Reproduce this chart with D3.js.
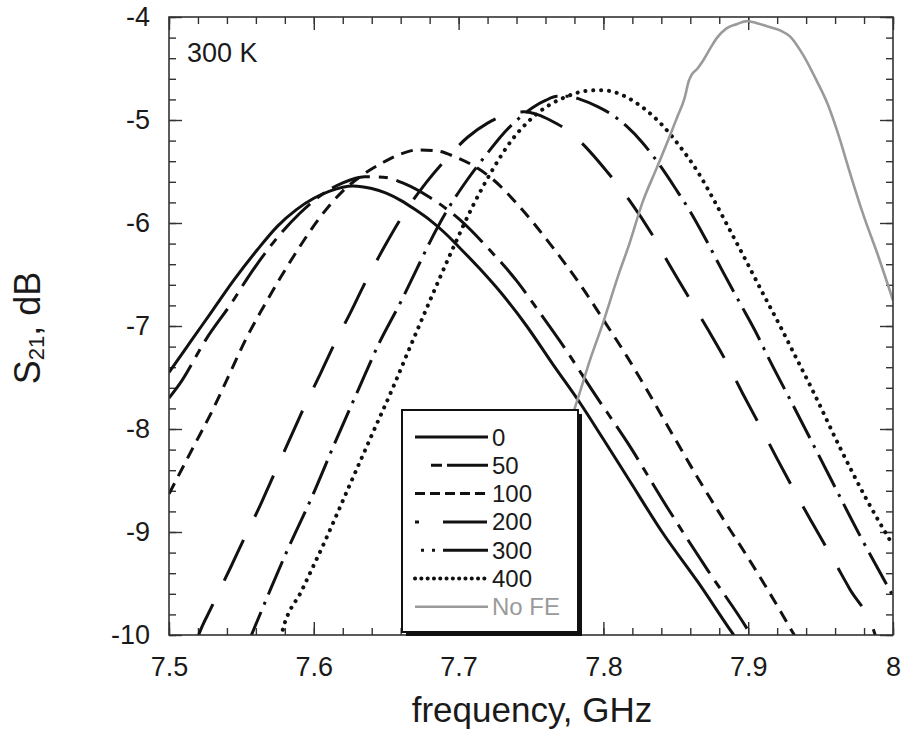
<!DOCTYPE html>
<html>
<head>
<meta charset="utf-8">
<script src="https://cdn.jsdelivr.net/npm/d3@7"></script>
<style>
  html, body { margin: 0; padding: 0; background: #fff; }
  svg { display: block; }
  text { font-family: "Liberation Sans", Arial, Helvetica, sans-serif; fill: #1a1a1a; }
</style>
</head>
<body>
<svg id="chart" width="904" height="747"></svg>
<script>
// ---- data ----
const xTicks = [7.5, 7.6, 7.7, 7.8, 7.9, 8];
const yTicks = [-4, -5, -6, -7, -8, -9, -10];
const seriesNames = ["0", "50", "100", "200", "300", "400", "No FE"];
const tempLabel = "300 K";

const s0 = [[7.50,-7.45],[7.515,-7.15],[7.530,-6.85],[7.545,-6.55],[7.561,-6.26],[7.575,-6.03],[7.588,-5.87],[7.600,-5.76],[7.611,-5.69],[7.627,-5.64],[7.640,-5.665],[7.650,-5.71],[7.660,-5.78],[7.670,-5.87],[7.680,-5.97],[7.690,-6.09],[7.700,-6.23],[7.715,-6.45],[7.730,-6.69],[7.747,-7.00],[7.765,-7.37],[7.784,-7.75],[7.800,-8.10],[7.818,-8.50],[7.841,-9.01],[7.865,-9.48],[7.889,-9.98],[7.900,-10.2]];
const s50 = [[7.50,-7.70],[7.507,-7.57],[7.526,-7.12],[7.544,-6.76],[7.554,-6.54],[7.572,-6.19],[7.590,-5.91],[7.605,-5.73],[7.620,-5.61],[7.635,-5.55],[7.648,-5.555],[7.663,-5.62],[7.680,-5.75],[7.701,-5.97],[7.722,-6.27],[7.740,-6.56],[7.756,-6.87],[7.775,-7.25],[7.793,-7.64],[7.817,-8.14],[7.844,-8.76],[7.872,-9.37],[7.901,-9.98],[7.910,-10.2]];
const s100 = [[7.50,-8.63],[7.517,-8.17],[7.530,-7.82],[7.542,-7.46],[7.553,-7.13],[7.565,-6.82],[7.577,-6.53],[7.588,-6.28],[7.604,-5.95],[7.620,-5.69],[7.634,-5.53],[7.648,-5.41],[7.660,-5.33],[7.672,-5.29],[7.685,-5.30],[7.698,-5.36],[7.711,-5.45],[7.724,-5.58],[7.742,-5.84],[7.763,-6.20],[7.786,-6.64],[7.800,-6.94],[7.816,-7.29],[7.830,-7.62],[7.848,-8.06],[7.865,-8.47],[7.883,-8.88],[7.899,-9.23],[7.913,-9.55],[7.931,-9.98],[7.940,-10.2]];
const s200 = [[7.518,-10.1],[7.521,-9.98],[7.529,-9.74],[7.543,-9.33],[7.550,-9.12],[7.564,-8.71],[7.570,-8.52],[7.583,-8.11],[7.591,-7.86],[7.605,-7.45],[7.613,-7.21],[7.626,-6.85],[7.634,-6.62],[7.650,-6.20],[7.660,-5.96],[7.678,-5.60],[7.692,-5.37],[7.706,-5.17],[7.720,-5.03],[7.733,-4.95],[7.745,-4.92],[7.755,-4.95],[7.763,-5.00],[7.773,-5.08],[7.784,-5.21],[7.803,-5.51],[7.818,-5.78],[7.834,-6.12],[7.845,-6.39],[7.861,-6.77],[7.872,-7.03],[7.885,-7.35],[7.896,-7.65],[7.910,-8.02],[7.920,-8.29],[7.935,-8.68],[7.945,-8.93],[7.960,-9.30],[7.970,-9.55],[7.986,-9.93],[7.990,-10.1]];
const s300 = [[7.554,-10.1],[7.559,-9.93],[7.570,-9.56],[7.581,-9.20],[7.599,-8.65],[7.615,-8.12],[7.631,-7.61],[7.645,-7.17],[7.661,-6.74],[7.670,-6.48],[7.680,-6.19],[7.692,-5.88],[7.706,-5.58],[7.720,-5.32],[7.731,-5.13],[7.742,-4.98],[7.751,-4.88],[7.760,-4.81],[7.768,-4.77],[7.776,-4.77],[7.784,-4.80],[7.796,-4.87],[7.805,-4.94],[7.816,-5.06],[7.827,-5.22],[7.841,-5.48],[7.850,-5.67],[7.860,-5.89],[7.870,-6.14],[7.882,-6.46],[7.894,-6.77],[7.906,-7.08],[7.914,-7.31],[7.931,-7.77],[7.954,-8.40],[7.977,-9.03],[8.000,-9.62]];
const s400 = [[7.576,-10.1],[7.578,-9.98],[7.592,-9.56],[7.608,-9.08],[7.624,-8.57],[7.640,-8.06],[7.654,-7.62],[7.666,-7.22],[7.680,-6.76],[7.695,-6.28],[7.710,-5.83],[7.724,-5.47],[7.737,-5.19],[7.750,-4.99],[7.762,-4.86],[7.775,-4.77],[7.787,-4.72],[7.798,-4.71],[7.810,-4.74],[7.820,-4.81],[7.830,-4.91],[7.840,-5.04],[7.853,-5.26],[7.865,-5.50],[7.876,-5.77],[7.887,-6.06],[7.899,-6.38],[7.910,-6.68],[7.922,-7.00],[7.931,-7.25],[7.945,-7.64],[7.963,-8.17],[7.982,-8.69],[8.000,-9.13]];
const sNoFE = [[7.760,-8.60],[7.772,-8.15],[7.782,-7.72],[7.791,-7.32],[7.800,-6.96],[7.810,-6.52],[7.818,-6.20],[7.827,-5.80],[7.837,-5.46],[7.846,-5.15],[7.851,-4.97],[7.856,-4.79],[7.859,-4.62],[7.861,-4.56],[7.865,-4.50],[7.869,-4.42],[7.874,-4.30],[7.878,-4.21],[7.885,-4.11],[7.892,-4.07],[7.899,-4.04],[7.906,-4.06],[7.913,-4.09],[7.922,-4.13],[7.929,-4.19],[7.938,-4.37],[7.947,-4.61],[7.955,-4.85],[7.962,-5.13],[7.970,-5.50],[7.979,-5.90],[7.990,-6.33],[8.000,-6.75]];

// ---- styles ----
const styles = [
  { data: s0,    color: "#111", width: 3,   dash: null,        legendDash: null },
  { data: s50,   color: "#111", width: 3,   dash: "40,9,9,9",  legendDash: "0,16,11,5,40" },
  { data: s100,  color: "#111", width: 3,   dash: "12,8",      legendDash: "10,5" },
  { data: s200,  color: "#111", width: 3,   dash: "45,26",     legendDash: "4,24,44" },
  { data: s300,  color: "#111", width: 3,   dash: "36,8,3,8",  legendDash: "0,6,3,8,3,8,44" },
  { data: s400,  color: "#111", width: 4,   dash: "0.1,7.8",   legendDash: "0.1,6.2", cap: "round" },
  { data: sNoFE, color: "#9a9a9a", width: 2.6, dash: null,     legendDash: null }
];

const L = 169, T = 17, R = 893, B = 635;

const svg = d3.select("#chart");
const x = d3.scaleLinear().domain([7.5, 8]).range([L, R]);
const y = d3.scaleLinear().domain([-10, -4]).range([B, T]);

svg.append("defs").append("clipPath").attr("id", "plotclip")
  .append("rect").attr("x", L).attr("y", T).attr("width", R - L).attr("height", B - T);

// ---- axes (inward ticks on all four sides) ----
const xMinor = d3.range(7.5, 8.0001, 0.02).map(v => +v.toFixed(2));
const yMinor = d3.range(-10, -3.9999, 0.2).map(v => +v.toFixed(1));
const fmt = d => String(+(+d).toFixed(1));

function styleAxis(g) {
  g.select(".domain").remove();
  g.selectAll(".tick line").attr("stroke", "#333").attr("stroke-width", 1.4);
}
function styleLabels(g) {
  g.selectAll("text").attr("font-size", 27).attr("fill", "#1a1a1a")
    .attr("font-family", '"Liberation Sans", Arial, sans-serif');
}

svg.append("g").attr("transform", `translate(0,${B})`)
  .call(d3.axisBottom(x).tickValues(xMinor).tickSize(-7).tickFormat(""))
  .call(styleAxis);
svg.append("g").attr("transform", `translate(0,${B})`)
  .call(d3.axisBottom(x).tickValues(xTicks).tickSize(-13).tickPadding(22).tickFormat(fmt))
  .call(styleAxis).call(styleLabels);
svg.append("g").attr("transform", `translate(0,${T})`)
  .call(d3.axisTop(x).tickValues(xMinor).tickSize(-7).tickFormat(""))
  .call(styleAxis);
svg.append("g").attr("transform", `translate(0,${T})`)
  .call(d3.axisTop(x).tickValues(xTicks).tickSize(-13).tickFormat(""))
  .call(styleAxis);

svg.append("g").attr("transform", `translate(${L},0)`)
  .call(d3.axisLeft(y).tickValues(yMinor).tickSize(-7).tickFormat(""))
  .call(styleAxis);
svg.append("g").attr("transform", `translate(${L},0)`)
  .call(d3.axisLeft(y).tickValues(yTicks).tickSize(-13).tickPadding(19).tickFormat(fmt))
  .call(styleAxis).call(styleLabels);
svg.append("g").attr("transform", `translate(${R},0)`)
  .call(d3.axisRight(y).tickValues(yMinor).tickSize(-7).tickFormat(""))
  .call(styleAxis);
svg.append("g").attr("transform", `translate(${R},0)`)
  .call(d3.axisRight(y).tickValues(yTicks).tickSize(-13).tickFormat(""))
  .call(styleAxis);

// ---- curves ----
const line = d3.line().x(d => x(d[0])).y(d => y(d[1])).curve(d3.curveMonotoneX);
const plot = svg.append("g").attr("clip-path", "url(#plotclip)");
styles.forEach(s => {
  plot.append("path")
    .attr("d", line(s.data))
    .attr("fill", "none")
    .attr("stroke", s.color)
    .attr("stroke-width", s.width)
    .attr("stroke-linecap", s.cap || "butt")
    .attr("stroke-linejoin", "round")
    .attr("stroke-dasharray", s.dash);
});

// ---- frame ----
svg.append("rect").attr("x", L).attr("y", T).attr("width", R - L).attr("height", B - T)
  .attr("fill", "none").attr("stroke", "#333").attr("stroke-width", 1.6);

// ---- legend ----
const lg = { x: 402, y: 410, w: 176, h: 222 };
svg.append("rect").attr("x", lg.x + 4).attr("y", lg.y + 4).attr("width", lg.w).attr("height", lg.h)
  .attr("fill", "#111");
svg.append("rect").attr("x", lg.x).attr("y", lg.y).attr("width", lg.w).attr("height", lg.h)
  .attr("fill", "#fff").attr("stroke", "#111").attr("stroke-width", 2);
seriesNames.forEach((name, i) => {
  const s = styles[i];
  const yy = 437 + i * 28.3;
  svg.append("line").attr("x1", 415).attr("x2", 488).attr("y1", yy).attr("y2", yy)
    .attr("stroke", s.color).attr("stroke-width", s.width)
    .attr("stroke-linecap", s.cap || "butt")
    .attr("stroke-dasharray", s.legendDash);
  svg.append("text").attr("x", 492).attr("y", yy + 8.5)
    .attr("font-size", 24)
    .style("fill", i === 6 ? "#9a9a9a" : "#1a1a1a")
    .text(name);
});

// ---- labels ----
svg.append("text").attr("x", 187).attr("y", 62).attr("font-size", 27).text(tempLabel);

svg.append("text").attr("x", 532).attr("y", 722).attr("text-anchor", "middle")
  .attr("font-size", 35).text("frequency, GHz");

const yt = svg.append("text").attr("transform", "translate(40,328) rotate(-90)")
  .attr("text-anchor", "middle").attr("font-size", 36);
yt.append("tspan").text("S");
yt.append("tspan").attr("font-size", 22).attr("dy", 4).text("21");
yt.append("tspan").attr("dy", -4).text(", dB");
</script>
</body>
</html>
